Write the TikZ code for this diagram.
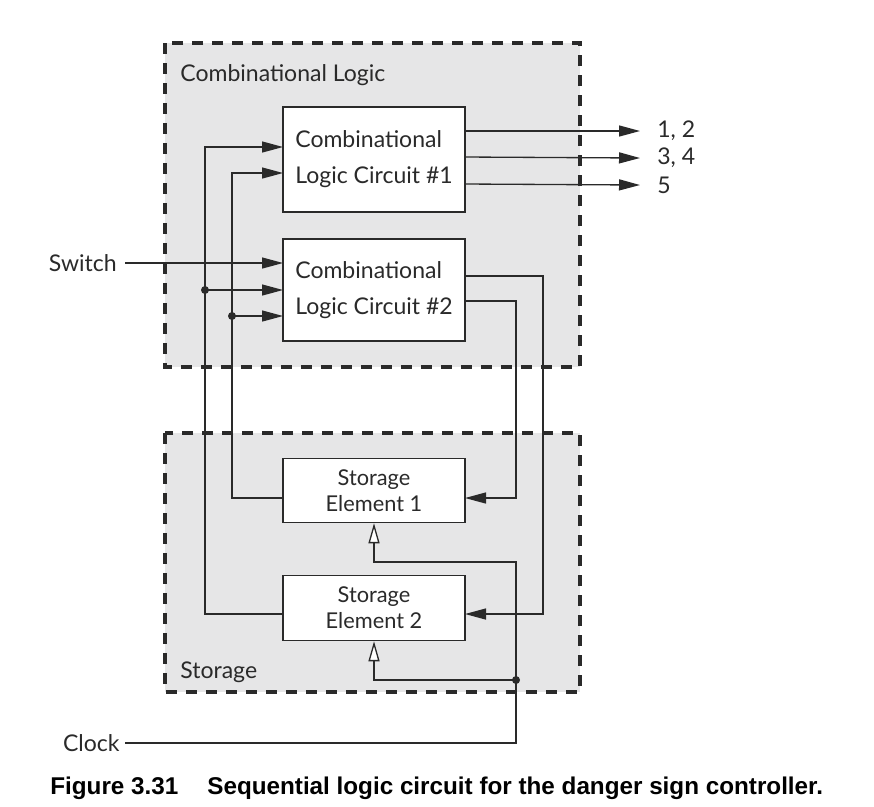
\documentclass[tikz,border=0pt]{standalone}
\usepackage{fontspec}
\setmainfont{Lato}
\newfontfamily\capfont{Liberation Sans}
\usetikzlibrary{arrows.meta}
\definecolor{panel}{HTML}{E6E6E7}
\definecolor{ink}{HTML}{2A2A2A}
\tikzset{
  block/.style={draw=ink, fill=white, line width=0.85pt, inner xsep=0.1cm, inner ysep=0pt,
    minimum width=3.64cm, text=ink},
  group/.style={draw=ink, fill=panel, line width=1.9pt, dash pattern=on 0.22cm off 0.18cm},
  wire/.style={draw=ink, line width=0.75pt},
  sig/.style={wire, -{Triangle[length=0.42cm,width=0.22cm]}},
  clk/.style={wire, -{Triangle[open,length=0.4cm,width=0.22cm,fill=white]}},
  dot/.style={circle, fill=ink, inner sep=0pt, minimum size=0.16cm},
  lbl/.style={text=ink, inner sep=0pt}
}
\begin{document}
\begin{tikzpicture}[x=0.02cm,y=-0.02cm,font=\fontsize{13.1}{15}\selectfont]
    \useasboundingbox (0,0) rectangle (874,806);

    % dashed regions
    \draw[group] (165,43) rectangle (580,367);
    \draw[group] (165,433) rectangle (580,692);
    \node[lbl, anchor=west] (cltitle) at (180,75) {Combinational Logic};
    \node[lbl, anchor=west] (sttitle) at (180,672) {Storage};

    % blocks
    \node[block, minimum height=2.1cm, align=left, font=\fontsize{13.1}{20.5}\selectfont] (clc1) at (374,159.5) {Combinational\\Logic Circuit \#1};
    \node[block, minimum height=2.04cm, align=left, font=\fontsize{13.1}{20.5}\selectfont] (clc2) at (374,290) {Combinational\\Logic Circuit \#2};
    \node[block, minimum height=1.28cm, align=center, font=\fontsize{12.4}{14.8}\selectfont] (se1) at (374,490.5) {Storage\\Element 1};
    \node[block, minimum height=1.3cm, align=center, font=\fontsize{12.4}{14.8}\selectfont] (se2) at (374,608) {Storage\\Element 2};

    % ports
    \coordinate (c1i1) at (283,147);
    \coordinate (c1i2) at (283,173);
    \coordinate (c1o1) at (465,131);
    \coordinate (c1o2) at (465,157);
    \coordinate (c1o3) at (465,184);
    \coordinate (c2i1) at (283,263);
    \coordinate (c2i2) at (283,290);
    \coordinate (c2i3) at (283,316);
    \coordinate (c2o1) at (465,276);
    \coordinate (c2o2) at (465,301);
    \coordinate (s1o) at (283,498);
    \coordinate (s1i) at (465,498);
    \coordinate (s2o) at (283,614);
    \coordinate (s2i) at (465,614);

    % outside labels
    \node[lbl, anchor=east, inner xsep=0.16cm] (switch) at (125,263) {Switch};
    \node[lbl, anchor=east, inner xsep=0.1cm] (clock) at (125,743) {Clock};
    \node[lbl, anchor=west, inner xsep=0.34cm] (out12) at (640,131) {1, 2};
    \node[lbl, anchor=west, inner xsep=0.34cm] (out34) at (640,158) {3, 4};
    \node[lbl, anchor=west, inner xsep=0.34cm] (out5) at (640,185) {5};

    % outputs
    \draw[sig] (c1o1) -- (out12.west);
    \draw[sig] (c1o2) -- (out34.west);
    \draw[sig] (c1o3) -- (out5.west);
    \draw[sig] (switch.east) -- (c2i1);

    % feedback buses
    \node[dot] (busA) at (205,290) {};
    \node[dot] (busB) at (232,316) {};
    \draw[sig] (s2o) -| (busA.center |- c1i1) -- (c1i1);
    \draw[sig] (s1o) -| (busB.center |- c1i2) -- (c1i2);
    \draw[sig] (busA.center) -- (c2i2);
    \draw[sig] (busB.center) -- (c2i3);

    % next state
    \draw[sig] (c2o1) -- ++(78,0) |- (s2i);
    \draw[sig] (c2o2) -- ++(51,0) |- (s1i);

    % clock
    \node[dot] (clkdot) at (516,680) {};
    \draw[wire] (clock.east) -| (clkdot.center);
    \draw[clk] (clkdot.center) -- ++(0,-118) -| (se1.south);
    \draw[clk] (clkdot.center) -| (se2.south);

    % caption
    \node[anchor=base west, inner sep=0pt, font=\capfont\bfseries\fontsize{13.8}{16}\selectfont] (capnum) at (50,794) {Figure 3.31};
    \node[anchor=base west, inner sep=0pt, font=\capfont\bfseries\fontsize{13.8}{16}\selectfont] (captxt) at (207,794) {Sequential logic circuit for the danger sign controller.};
\end{tikzpicture}
\end{document}
